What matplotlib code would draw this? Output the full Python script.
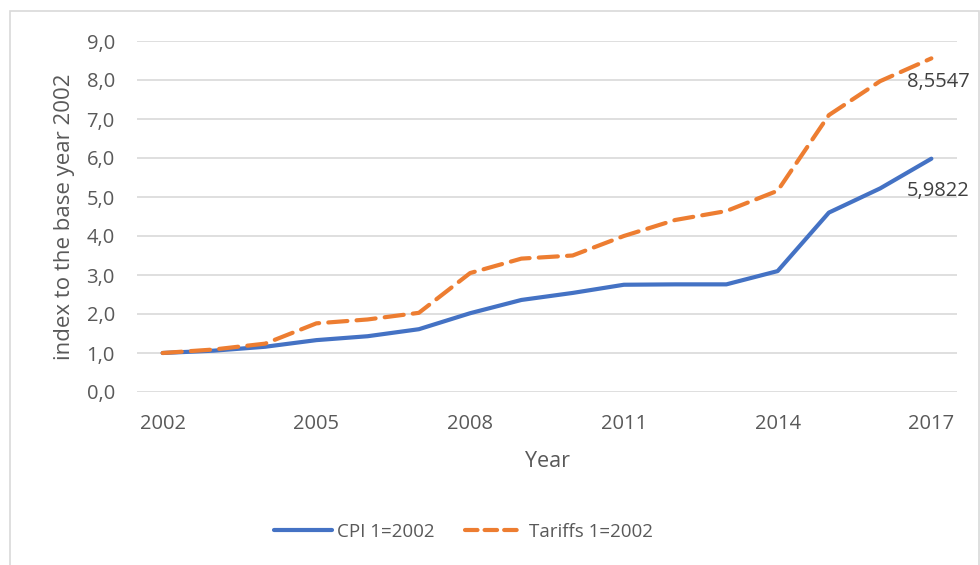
import matplotlib
matplotlib.use('Agg')
import matplotlib.pyplot as plt
from matplotlib.patches import Rectangle
from matplotlib.lines import Line2D

plt.rcParams['font.family'] = ['Open Sans', 'DejaVu Sans']

# data
years = list(range(2002, 2018))
cpi = [1.0, 1.06, 1.16, 1.33, 1.43, 1.61, 2.02, 2.36, 2.54, 2.75, 2.76, 2.76, 3.10, 4.60, 5.22, 5.9822]
tariffs = [1.0, 1.09, 1.24, 1.76, 1.86, 2.03, 3.05, 3.42, 3.50, 4.0, 4.41, 4.64, 5.16, 7.10, 7.97, 8.5547]
year_ticks = [2002, 2005, 2008, 2011, 2014, 2017]
y_ticks = [0, 1, 2, 3, 4, 5, 6, 7, 8, 9]

blue = '#4472C4'
orange = '#ED7D31'
txt = '#595959'

fig = plt.figure(figsize=(9.8, 5.65), dpi=100)
W, H = 980, 565
ax = fig.add_axes([137 / W, 1 - 392 / H, (957 - 137) / W, (392 - 41) / H])

# chart border
fig.patches.append(Rectangle((10 / W, -0.01), (979 - 10) / W, (565 - 11) / H + 0.01,
                             transform=fig.transFigure, fill=False,
                             edgecolor='#D9D9D9', lw=1.2))

ax.plot(years, cpi, color=blue, lw=3, solid_capstyle='round', solid_joinstyle='round', zorder=3)
ax.plot(years, tariffs, color=orange, lw=3, dashes=(4.6, 2.2), dash_capstyle='round',
        dash_joinstyle='round', zorder=3)

ax.set_xlim(2001.5, 2017.5)
ax.set_ylim(0, 9)
ax.set_xticks(year_ticks)
ax.set_xticklabels([str(y) for y in year_ticks])
ax.set_yticks(y_ticks)
ax.set_yticklabels([f'{v:.1f}'.replace('.', ',') for v in y_ticks])
ax.grid(axis='y', color='#D9D9D9', lw=1.2)
ax.set_axisbelow(True)
for s in ax.spines.values():
    s.set_visible(False)
ax.tick_params(length=0, labelsize=14.5, colors=txt, pad=16)
ax.tick_params(axis='x', pad=16)

ax.set_ylabel('index to the base year 2002', fontsize=16, color=txt, labelpad=8)
ax.set_xlabel('Year', fontsize=15.5, color=txt, labelpad=12)

# end value labels
ax.annotate(f'{tariffs[-1]:.4f}'.replace('.', ','), (years[-1], tariffs[-1]),
            xytext=(5, -10), textcoords='offset points', ha='center', va='top',
            fontsize=14.5, color='#404040')
ax.annotate(f'{cpi[-1]:.4f}'.replace('.', ','), (years[-1], cpi[-1]),
            xytext=(5, -16), textcoords='offset points', ha='center', va='top',
            fontsize=14.5, color='#404040')

handles = [Line2D([], [], color=blue, lw=3, solid_capstyle='round'),
           Line2D([], [], color=orange, lw=3, dashes=(3.0, 1.7), dash_capstyle='round')]
fig.legend(handles, ['CPI 1=2002', 'Tariffs 1=2002'], loc='center',
           bbox_to_anchor=(463 / W, 1 - 532 / H), ncol=2, frameon=False,
           fontsize=13.5, labelcolor=txt, handlelength=3.1, handletextpad=0.3,
           columnspacing=1.6)

fig.savefig('out.png', dpi=100)
